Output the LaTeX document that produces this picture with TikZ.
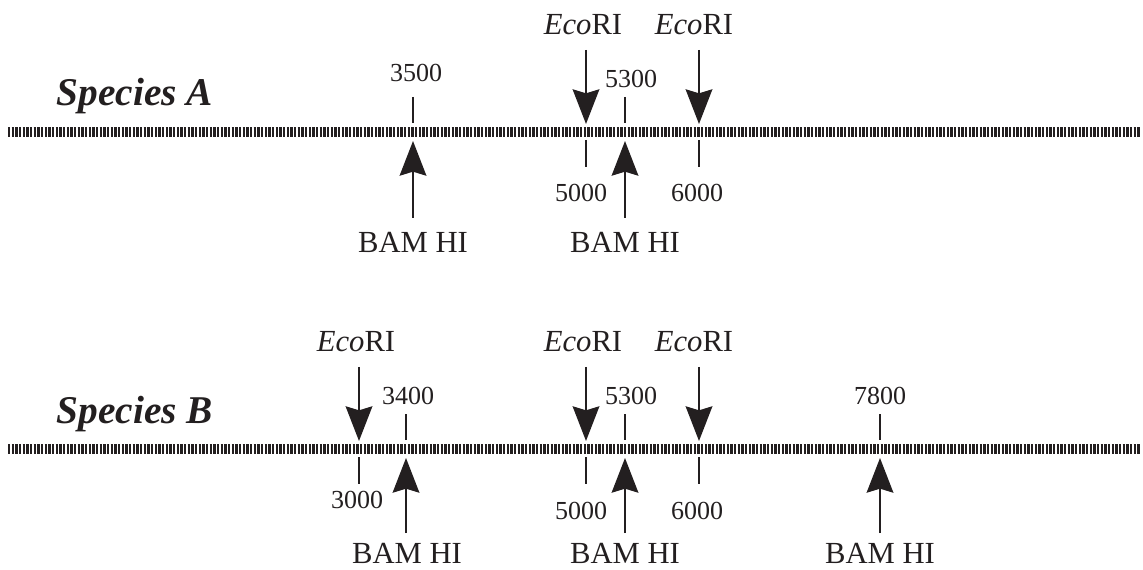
\documentclass[tikz,border=0pt]{standalone}
\usepackage{fontspec}
\setmainfont{Liberation Serif}
\usetikzlibrary{arrows.meta}
\definecolor{ink}{RGB}{35,31,32}
\begin{document}
\begin{tikzpicture}[x=0.75pt,y=-0.75pt,
  dna/.style={line width=6.8pt,dash pattern=on 1.8pt off 0.95pt,color=ink},
  tickline/.style={line width=1.5pt,color=ink},
  arr/.style={line width=1.5pt,color=ink,-{Stealth[length=26pt,width=20pt,inset=3pt]}},
  num/.style={anchor=base,inner sep=0pt,font=\fontsize{19.5}{20}\selectfont,text=ink},
  enz/.style={anchor=base,inner sep=0pt,font=\fontsize{23}{24}\selectfont,text=ink},
  spec/.style={anchor=base,inner sep=0pt,font=\fontsize{29.5}{30}\selectfont\bfseries\itshape,text=ink}]
\useasboundingbox (0,0) rectangle (1143,570);
% ---------------- Species A ----------------
\node[spec] (specA) at (135,106) {Species A};
\coordinate (dA1) at (8,132); \coordinate (dA2) at (1140,132);
\draw[dna] (dA1) -- (dA2);
% 3500
\coordinate (tA3500a) at (413,97); \coordinate (tA3500b) at (413,123);
\draw[tickline] (tA3500a) -- (tA3500b);
\node[num] (nA3500) at (416,82) {3500};
% BAM HI at 3500
\coordinate (bA1s) at (413,218); \coordinate (bA1t) at (413,141);
\draw[arr] (bA1s) -- (bA1t);
\node[enz] (lbA1) at (413,253) {BAM HI};
% EcoRI at 5000
\coordinate (eA1s) at (586,50); \coordinate (eA1t) at (586,124);
\draw[arr] (eA1s) -- (eA1t);
\node[enz] (leA1) at (583,35) {\textit{Eco}RI};
% 5300
\coordinate (tA5300a) at (625,97); \coordinate (tA5300b) at (625,123);
\draw[tickline] (tA5300a) -- (tA5300b);
\node[num] (nA5300) at (631,88) {5300};
% 5000
\coordinate (tA5000a) at (586,140); \coordinate (tA5000b) at (586,167);
\draw[tickline] (tA5000a) -- (tA5000b);
\node[num] (nA5000) at (581,202) {5000};
% BAM HI at 5300
\coordinate (bA2s) at (625,218); \coordinate (bA2t) at (625,141);
\draw[arr] (bA2s) -- (bA2t);
\node[enz] (lbA2) at (625,253) {BAM HI};
% EcoRI at 6000
\coordinate (eA2s) at (699,50); \coordinate (eA2t) at (699,124);
\draw[arr] (eA2s) -- (eA2t);
\node[enz] (leA2) at (694,35) {\textit{Eco}RI};
% 6000
\coordinate (tA6000a) at (699,140); \coordinate (tA6000b) at (699,167);
\draw[tickline] (tA6000a) -- (tA6000b);
\node[num] (nA6000) at (697,202) {6000};
% ---------------- Species B ----------------
\node[spec] (specB) at (135,423) {Species B};
\coordinate (dB1) at (8,449); \coordinate (dB2) at (1140,449);
\draw[dna] (dB1) -- (dB2);
% EcoRI at 3000
\coordinate (eB0s) at (359,367); \coordinate (eB0t) at (359,441);
\draw[arr] (eB0s) -- (eB0t);
\node[enz] (leB0) at (356,352) {\textit{Eco}RI};
% 3000
\coordinate (tB3000a) at (359,457); \coordinate (tB3000b) at (359,484);
\draw[tickline] (tB3000a) -- (tB3000b);
\node[num] (nB3000) at (357,508) {3000};
% 3400
\coordinate (tB3400a) at (406,414); \coordinate (tB3400b) at (406,440);
\draw[tickline] (tB3400a) -- (tB3400b);
\node[num] (nB3400) at (408,405) {3400};
% BAM HI at 3400
\coordinate (bB1s) at (406,533); \coordinate (bB1t) at (406,458);
\draw[arr] (bB1s) -- (bB1t);
\node[enz] (lbB1) at (407,563) {BAM HI};
% EcoRI at 5000
\coordinate (eB1s) at (586,367); \coordinate (eB1t) at (586,441);
\draw[arr] (eB1s) -- (eB1t);
\node[enz] (leB1) at (583,352) {\textit{Eco}RI};
% 5300
\coordinate (tB5300a) at (625,414); \coordinate (tB5300b) at (625,440);
\draw[tickline] (tB5300a) -- (tB5300b);
\node[num] (nB5300) at (631,405) {5300};
% 5000
\coordinate (tB5000a) at (586,457); \coordinate (tB5000b) at (586,484);
\draw[tickline] (tB5000a) -- (tB5000b);
\node[num] (nB5000) at (581,519) {5000};
% BAM HI at 5300
\coordinate (bB2s) at (625,533); \coordinate (bB2t) at (625,458);
\draw[arr] (bB2s) -- (bB2t);
\node[enz] (lbB2) at (625,563) {BAM HI};
% EcoRI at 6000
\coordinate (eB2s) at (699,367); \coordinate (eB2t) at (699,441);
\draw[arr] (eB2s) -- (eB2t);
\node[enz] (leB2) at (694,352) {\textit{Eco}RI};
% 6000
\coordinate (tB6000a) at (699,457); \coordinate (tB6000b) at (699,484);
\draw[tickline] (tB6000a) -- (tB6000b);
\node[num] (nB6000) at (697,519) {6000};
% 7800
\coordinate (tB7800a) at (880,414); \coordinate (tB7800b) at (880,440);
\draw[tickline] (tB7800a) -- (tB7800b);
\node[num] (nB7800) at (880,405) {7800};
% BAM HI at 7800
\coordinate (bB3s) at (880,533); \coordinate (bB3t) at (880,458);
\draw[arr] (bB3s) -- (bB3t);
\node[enz] (lbB3) at (880,563) {BAM HI};
\end{tikzpicture}
\end{document}
